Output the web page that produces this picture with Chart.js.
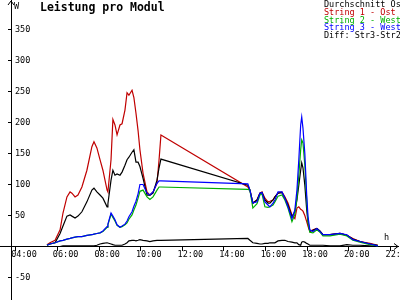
<!DOCTYPE html>
<html>
<head>
<meta charset="utf-8">
<script src="https://cdn.jsdelivr.net/npm/chart.js@4"></script>
<style>
  html, body { margin: 0; padding: 0; background: #fff; }
  #wrap { width: 400px; height: 300px; }
</style>
</head>
<body>
<div id="wrap"><canvas id="modulChart" width="400" height="300"></canvas></div>
<script>
// time of day in hours
const hours = [5.49, 5.63, 5.88, 6.12, 6.26, 6.45, 6.60, 6.69, 6.84, 6.98,
  7.17, 7.41, 7.65, 7.75, 7.89, 8.04, 8.18, 8.38, 8.42, 8.57,
  8.66, 8.76, 8.86, 9.00, 9.10, 9.24, 9.34, 9.43, 9.58, 9.67,
  9.77, 9.87, 9.96, 10.11, 10.30, 10.44, 10.59, 10.78, 10.88, 10.97,
  15.15, 15.25, 15.39, 15.59, 15.73, 15.83, 15.97, 16.12, 16.21, 16.36,
  16.45, 16.60, 16.79, 16.93, 17.08, 17.27, 17.41, 17.51, 17.60, 17.69,
  17.74, 17.80, 17.89, 17.98, 18.04, 18.13, 18.28, 18.47, 18.62, 18.76,
  19.10, 19.58, 19.91, 20.20, 20.54, 21.02, 21.40];

const durchschnitt = [2, 4, 6, 21, 33, 49, 51, 49, 46, 49,
  56, 72, 91, 94, 88, 83, 78, 64, 69, 107,
  123, 115, 117, 115, 120, 131, 140, 144, 152, 156,
  136, 136, 129, 110, 83, 83, 86, 107, 127, 141,
  99, 91, 70, 75, 86, 87, 75, 70, 70, 75,
  80, 86, 87, 78, 67, 48, 56, 75, 99, 123,
  135, 127, 99, 59, 40, 25, 26, 29, 25, 19,
  19, 21, 18, 12, 8, 4, 2];

const string1 = [3, 6, 10, 27, 54, 80, 88, 86, 80, 83,
  96, 123, 161, 169, 159, 140, 123, 91, 88, 140,
  205, 196, 180, 196, 198, 220, 248, 244, 252, 240,
  215, 187, 156, 118, 88, 83, 88, 102, 140, 180,
  96, 91, 70, 75, 86, 88, 78, 72, 73, 75,
  80, 86, 88, 80, 70, 51, 45, 62, 64, 60,
  59, 57, 50, 40, 33, 24, 27, 29, 24, 19,
  19, 21, 18, 13, 8, 5, 2];

const string2 = [2, 4, 6, 9, 10, 12, 13, 14, 15, 16,
  16, 18, 19, 20, 21, 22, 24, 31, 35, 52,
  47, 41, 34, 31, 32, 35, 38, 44, 51, 59,
  67, 78, 89, 91, 80, 76, 80, 91, 96, 96,
  92, 91, 62, 69, 83, 85, 64, 63, 64, 67,
  72, 81, 83, 75, 62, 40, 52, 78, 115, 156,
  172, 167, 131, 75, 40, 23, 22, 27, 23, 17,
  17, 20, 17, 10, 7, 3, 1];

const string3 = [2, 4, 6, 9, 10, 12, 13, 14, 15, 16,
  16, 18, 19, 20, 21, 22, 25, 32, 36, 54,
  49, 43, 35, 31, 33, 36, 41, 48, 56, 65,
  73, 85, 100, 100, 86, 83, 88, 102, 106, 106,
  101, 91, 70, 72, 86, 87, 72, 67, 64, 70,
  75, 88, 88, 78, 64, 45, 59, 91, 140, 196,
  209, 191, 150, 83, 49, 27, 24, 29, 24, 19,
  19, 21, 19, 11, 8, 4, 1];

const diff = [0, 0, 0, 0, 1, 1, 1, 1, 1, 1,
  1, 1, 1, 1, 2, 4, 5, 6, 6, 4,
  3, 2, 2, 2, 2, 4, 6, 9, 10, 10,
  9, 10, 11, 10, 9, 8, 9, 10, 10, 10,
  13, 10, 6, 5, 4, 4, 5, 5, 6, 6,
  6, 9, 10, 10, 8, 7, 6, 6, 3, 2,
  7, 8, 7, 5, 4, 2, 2, 2, 2, 2,
  1, 1, 3, 2, 2, 1, 0];

const hourTicks = [4, 6, 8, 10, 12, 14, 16, 18, 20, 22];
const wattTicks = [-50, 50, 100, 150, 200, 250, 300, 350];

const mono = 'DejaVu Sans Mono';
Chart.defaults.font.family = mono;
Chart.defaults.font.size = 8.5;
Chart.defaults.color = '#000';

function points(values) {
  return hours.map((h, i) => ({ x: h, y: values[i] }));
}

// title, units, arrows and the text legend
const decorations = {
  id: 'decorations',
  afterDraw(chart) {
    const { ctx, chartArea, scales: { x, y } } = chart;
    const y0 = y.getPixelForValue(0);
    ctx.save();
    ctx.strokeStyle = '#000';
    ctx.lineWidth = 1;
    ctx.beginPath();
    ctx.moveTo(0, y0);
    ctx.lineTo(chartArea.left, y0);
    // y arrow
    ctx.moveTo(chartArea.left - 3, chartArea.top + 5);
    ctx.lineTo(chartArea.left, chartArea.top + 1);
    ctx.lineTo(chartArea.left + 3, chartArea.top + 5);
    // x arrow
    ctx.moveTo(chartArea.right - 4, y0 - 3);
    ctx.lineTo(chartArea.right, y0);
    ctx.lineTo(chartArea.right - 4, y0 + 3);
    ctx.stroke();

    ctx.fillStyle = '#000';
    ctx.textBaseline = 'alphabetic';
    ctx.textAlign = 'left';
    ctx.font = 'bold 11.5px "' + mono + '"';
    ctx.fillText('Leistung pro Modul', 40, 10.5);

    ctx.font = '8.5px "' + mono + '"';
    ctx.fillText('W', chartArea.left + 3, 8.5);
    ctx.fillText('h', x.getPixelForValue(21.7), y0 - 6);

    ctx.textBaseline = 'middle';
    chart.data.datasets.forEach((ds, i) => {
      ctx.fillStyle = ds.borderColor;
      ctx.fillText(ds.label, 324, 5 + i * 7.7);
    });
    ctx.restore();
  }
};

const ctx = document.getElementById('modulChart');
new Chart(ctx, {
  type: 'line',
  data: {
    datasets: [
      { label: 'Durchschnitt Ost', data: points(durchschnitt), borderColor: '#000000', order: 2 },
      { label: 'String 1 - Ost', data: points(string1), borderColor: '#c00000', order: 3 },
      { label: 'String 2 - West', data: points(string2), borderColor: '#00b000', order: 1 },
      { label: 'String 3 - West', data: points(string3), borderColor: '#0000ff', order: 0 },
      { label: 'Diff: Str3-Str2', data: points(diff), borderColor: '#000000', order: 4 },
    ],
  },
  options: {
    responsive: false,
    animation: false,
    events: [],
    layout: { padding: { left: 8, top: 0, right: 2, bottom: 0 } },
    elements: {
      line: { borderWidth: 1.2, tension: 0, fill: false },
      point: { radius: 0 },
    },
    plugins: {
      legend: { display: false },
      tooltip: { enabled: false },
      title: { display: false },
    },
    scales: {
      x: {
        type: 'linear',
        min: 3.76,
        max: 22.37,
        position: { y: 0 },
        afterBuildTicks: (s) => { s.ticks = hourTicks.map((v) => ({ value: v })); },
        afterFit: (s) => { s.height = 0; s.paddingLeft = 0; s.paddingRight = 0; },
        grid: { drawOnChartArea: false, tickLength: 4, color: '#000', tickColor: '#000' },
        border: { color: '#000', width: 1 },
        ticks: {
          autoSkip: false,
          maxRotation: 0,
          padding: -1,
          labelOffset: 8,
          color: '#000',
          callback: (v) => String(v).padStart(2, '0') + ':00',
        },
      },
      y: {
        type: 'linear',
        min: -86.3,
        max: 397.6,
        afterBuildTicks: (s) => { s.ticks = wattTicks.map((v) => ({ value: v })); },
        afterFit: (s) => { s.width = 3; s.paddingTop = 0; s.paddingBottom = 0; },
        grid: { drawOnChartArea: false, tickLength: 3, color: '#000', tickColor: '#000' },
        border: { color: '#000', width: 1 },
        ticks: { mirror: true, padding: 4, color: '#000' },
      },
    },
  },
  plugins: [decorations],
});
</script>
</body>
</html>
